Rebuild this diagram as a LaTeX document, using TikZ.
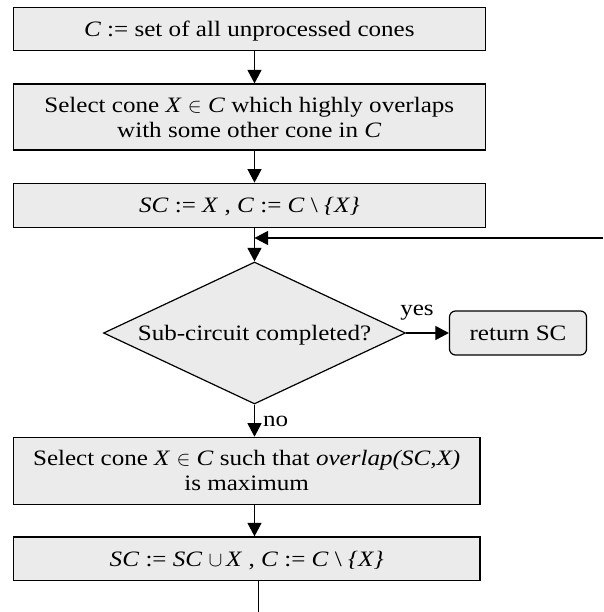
\documentclass[tikz,border=0pt]{standalone}
\usepackage{fontspec}
\setmainfont{Liberation Serif}[FakeStretch=1.14]
\usetikzlibrary{shapes.geometric,arrows.meta}
\definecolor{boxfill}{RGB}{235,235,235}
\begin{document}
\begin{tikzpicture}[x=1pt,y=-1pt,
  every node/.style={font=\fontsize{22}{25}\selectfont},
  procbox/.style={draw=black, line width=1.2pt, fill=boxfill, rectangle, inner sep=0pt, align=center, text depth=0pt},
  endbox/.style={procbox, rounded corners=6pt},
  decision/.style={draw=black, line width=1.2pt, fill=boxfill, diamond, inner sep=0pt},
  flow/.style={line width=1.1pt, -{Triangle[length=13.5pt,width=14pt]}},
  plain/.style={line width=1.1pt},
]
\useasboundingbox (0,0) rectangle (603,612);
\coordinate (ax) at (254.5,0);

% process steps
\node[procbox, minimum width=472pt, minimum height=43.5pt] (b1) at (249.3,29)
  {\textit{C} := set of all unprocessed cones};
\node[procbox, minimum width=472pt, minimum height=66pt] (b2) at (249.3,117)
  {Select cone \textit{X} $\in$ \textit{C} which highly overlaps\\ with some other cone in \textit{C}};
\node[procbox, minimum width=472pt, minimum height=44pt] (b3) at (249.3,205.2)
  {\textit{SC} := \textit{X} , \textit{C} := \textit{C} \textbackslash{} \textit{\{X\}}};

% decision and exit
\node[decision, minimum width=302pt, minimum height=142pt] (d) at (254.5,333) {};
\node[text depth=0pt] (dtext) at (d.center) {Sub-circuit completed?};
\node[endbox, minimum width=137pt, minimum height=44pt] (ret) at (518,333) {return SC};

\node[procbox, minimum width=466.7pt, minimum height=67pt] (b4) at (246.65,470.8)
  {Select cone \textit{X} $\in$ \textit{C} such that \textit{overlap(SC,X)}\\ is maximum};
\node[procbox, minimum width=466.7pt, minimum height=43.5pt] (b5) at (246.65,558.7)
  {\textit{SC} := \textit{SC} $\cup$\,\textit{X} , \textit{C} := \textit{C} \textbackslash{} \textit{\{X\}}};

% connectors
\draw[flow] (b1.south -| ax) -- (b2.north -| ax);
\draw[flow] (b2.south -| ax) -- (b3.north -| ax);
\draw[flow] (b3.south -| ax) -- (d.north);
\coordinate (loopin) at (603,238);
\draw[flow] (loopin) -- (loopin -| ax);
\draw[flow] (d.east) -- (ret.west);
\draw[flow] (d.south) -- (b4.north -| ax);
\draw[flow] (b4.south -| ax) -- (b5.north -| ax);
\coordinate (loopout) at (258.3,612);
\draw[plain] (b5.south -| loopout) -- (loopout);

% branch labels
\node[anchor=base] (yes) at (417,315) {yes};
\node[anchor=base west, inner sep=0pt] (no) at (263,426) {no};
\end{tikzpicture}
\end{document}
